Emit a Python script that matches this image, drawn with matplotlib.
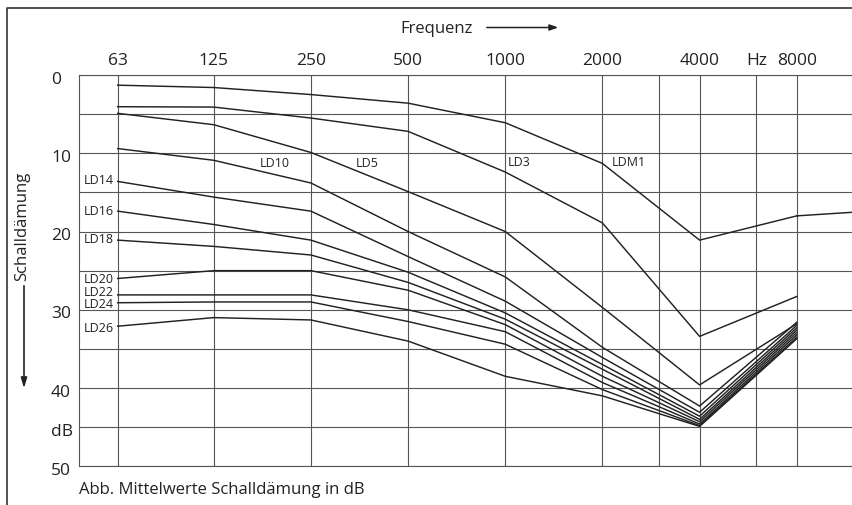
import matplotlib
matplotlib.use("Agg")
import matplotlib.pyplot as plt
from matplotlib.ticker import NullLocator
from matplotlib.transforms import offset_copy

plt.rcParams['font.family'] = ['Open Sans', 'DejaVu Sans']

# octave band centre frequencies (Hz)
freqs = [63, 125, 250, 500, 1000, 2000, 4000, 8000]
top_labels = ['63', '125', '250', '500', '1000', '2000', '4000', '8000']
grid_freqs = [63, 125, 250, 500, 1000, 2000, 3000, 4000, 6000, 8000]
db_ticks = [0, 10, 20, 30, 40, 45, 50]
db_labels = ['0', '10', '20', '30', '40', 'dB', '50']

# mean sound attenuation (dB) per ear plug class
ldm1 = [1.3, 1.6, 2.5, 3.6, 6.1, 11.3, 21.1, 18.0]
ld3 = [4.05, 4.1, 5.5, 7.2, 12.4, 18.9, 33.4, 28.3]
ld5 = [4.9, 6.35, 9.9, 14.9, 20.0, 29.7, 39.6, 31.8]
ld10 = [9.4, 10.9, 13.8, 20.0, 25.8, 34.8, 42.3, 31.6]
ld14 = [13.6, 15.6, 17.4, 23.2, 28.9, 36.1, 43.1, 32.0]
ld16 = [17.4, 19.1, 21.1, 25.2, 30.4, 37.0, 43.6, 32.3]
ld18 = [21.1, 21.9, 23.0, 26.5, 31.2, 37.6, 44.0, 32.6]
ld20 = [26.0, 25.0, 25.0, 27.5, 31.9, 38.5, 44.3, 32.9]
ld22 = [28.1, 28.1, 28.1, 30.0, 32.8, 39.3, 44.6, 33.2]
ld24 = [29.1, 29.0, 29.0, 31.5, 34.4, 40.2, 44.8, 33.5]
ld26 = [32.1, 31.0, 31.3, 34.0, 38.5, 41.0, 44.9, 33.7]
# LDM1 keeps going past 8000 Hz to the edge of the sheet
ldm1_tail_f = [8000, 16000]
ldm1_tail = [18.0, 17.2]

curves = [('LDM1', ldm1), ('LD3', ld3), ('LD5', ld5), ('LD10', ld10),
          ('LD14', ld14), ('LD16', ld16), ('LD18', ld18), ('LD20', ld20),
          ('LD22', ld22), ('LD24', ld24), ('LD26', ld26)]

# where the curve names sit (freq, dB)
label_pos = {'LDM1': (2140, 11.1), 'LD3': (1016, 11.1), 'LD5': (344, 11.15),
             'LD10': (174, 11.15), 'LD14': (49.3, 13.35), 'LD16': (49.3, 17.3),
             'LD18': (49.3, 20.95), 'LD20': (49.3, 26.0), 'LD22': (49.3, 27.65),
             'LD24': (49.3, 29.2), 'LD26': (49.3, 32.25)}

ink = '#222222'
grid_col = '#555555'

fig = plt.figure(figsize=(8.53, 5.06), dpi=100)
ax = fig.add_axes([79 / 853, 1 - 467.3 / 506, 1 - 79 / 853, (467.3 - 76) / 506])

ax.set_xscale('log', base=2)
ax.set_xlim(47.8, 11950)
ax.set_ylim(50, 0)

for f in grid_freqs:
    ax.axvline(f, color=grid_col, lw=0.8, zorder=1)
for d in range(0, 51, 5):
    ax.axhline(d, color=grid_col, lw=0.8, zorder=1)

for name, vals in curves:
    ax.plot(freqs, vals, color=ink, lw=1.05, zorder=3)
    lx, ly = label_pos[name]
    ax.text(lx, ly, name, fontsize=9, color=ink, va='center', ha='left', zorder=4)
ax.plot(ldm1_tail_f, ldm1_tail, color=ink, lw=1.05, zorder=3)

# top frequency axis
ax.xaxis.set_minor_locator(NullLocator())
ax.set_xticks(freqs + [6000])
ax.set_xticklabels(top_labels + ['Hz'])
ax.tick_params(axis='x', which='both', top=True, bottom=False, labeltop=True,
               labelbottom=False, length=0, pad=5, labelsize=12.5, labelcolor=ink)

# dB labels: left aligned, a little below their grid line
ax.set_yticks([])
ylab_tr = offset_copy(ax.get_yaxis_transform(), fig=fig, x=-28, y=-3.5, units='dots')
for d, lab in zip(db_ticks, db_labels):
    ax.text(0, d, lab, transform=ylab_tr, fontsize=12.5, color=ink, ha='left', va='center')

for side in ['left', 'top', 'bottom']:
    ax.spines[side].set_color(grid_col)
    ax.spines[side].set_linewidth(0.8)
ax.spines['right'].set_visible(False)

# axis titles with arrows
fig.text(400 / 853, 1 - 29 / 506, 'Frequenz', fontsize=12, color=ink, ha='left', va='center')
fig.add_artist(matplotlib.patches.FancyArrowPatch(
    (484 / 853, 1 - 28.5 / 506), (561 / 853, 1 - 28.5 / 506), transform=fig.transFigure,
    arrowstyle='-|>,head_length=5,head_width=1.8', color=ink, lw=1.1, mutation_scale=1))
fig.text(22 / 853, 1 - 226 / 506, 'Schalldämung', fontsize=12, color=ink, rotation=90,
         ha='center', va='center')
fig.add_artist(matplotlib.patches.FancyArrowPatch(
    (24 / 853, 1 - 284 / 506), (24 / 853, 1 - 392 / 506), transform=fig.transFigure,
    arrowstyle='-|>,head_length=6,head_width=1.8', color=ink, lw=1.2, mutation_scale=1))

fig.text(79 / 853, 1 - 490 / 506, 'Abb. Mittelwerte Schalldämung in dB', fontsize=12,
         color=ink, ha='left', va='center')

# frame of the printed figure
fig.add_artist(matplotlib.lines.Line2D([7.5 / 853, 7.5 / 853, 1.0], [0.0, 1 - 9 / 506, 1 - 9 / 506],
                                       transform=fig.transFigure, color='#333333', lw=1.2))

fig.savefig('out.png', dpi=100)
